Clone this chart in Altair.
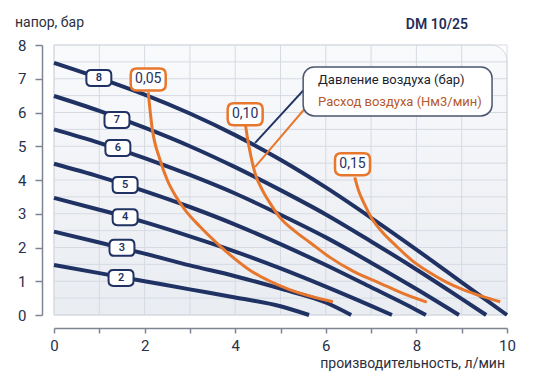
import altair as alt
import pandas as pd

W, H = 453, 270
NAVY = "#1f3263"
ORANGE = "#e8772e"
FONT = "Roboto"

# ---- pressure curves (air pressure, bar) ----
p2_x = [0, 1, 2, 3, 4, 5, 5.63]
p2_y = [1.48, 1.24, 1.0, 0.76, 0.52, 0.26, 0]
p3_x = [0, 1, 2, 3, 4, 5, 6, 6.56]
p3_y = [2.47, 2.15, 1.82, 1.47, 1.15, 0.78, 0.37, 0]
p4_x = [0, 1, 2, 3, 4, 5, 6, 7, 7.46]
p4_y = [3.47, 3.12, 2.75, 2.33, 1.88, 1.38, 0.84, 0.27, 0]
p5_x = [0, 1, 2, 3, 4, 5, 6, 7, 8, 8.21]
p5_y = [4.48, 4.1, 3.67, 3.2, 2.68, 2.1, 1.48, 0.82, 0.15, 0]
p6_x = [0, 1, 2, 3, 4, 5, 6, 7, 8, 8.94]
p6_y = [5.5, 5.1, 4.65, 4.15, 3.6, 2.97, 2.3, 1.55, 0.77, 0]
p7_x = [0, 1, 2, 3, 4, 5, 6, 7, 8, 9, 9.54]
p7_y = [6.49, 6.05, 5.55, 5.0, 4.38, 3.7, 2.98, 2.18, 1.35, 0.48, 0]
p8_x = [0, 1, 2, 3, 4, 5, 6, 7, 8, 9, 10]
p8_y = [7.47, 7.02, 6.53, 5.97, 5.33, 4.6, 3.78, 2.88, 1.94, 0.97, 0]

# ---- air consumption curves (Nm3/min) ----
o05_x = [2.08, 2.16, 2.34, 2.5, 2.72, 2.9, 3.2, 3.66, 4.3, 5.2, 6.16]
o05_y = [6.6, 5.6, 4.6, 4.0, 3.45, 3.1, 2.65, 2.05, 1.35, 0.75, 0.39]
o10_x = [4.22, 4.27, 4.34, 4.45, 4.6, 4.8, 5.0, 5.3, 5.65, 6.1, 6.6, 7.2, 7.7, 8.23]
o10_y = [5.7, 5.25, 4.75, 4.15, 3.7, 3.25, 2.87, 2.5, 2.15, 1.7, 1.3, 0.94, 0.64, 0.38]
o15_x = [6.64, 6.72, 6.84, 7.02, 7.25, 7.55, 7.9, 8.3, 8.65, 9.03, 9.45, 9.85]
o15_y = [4.08, 3.7, 3.32, 2.85, 2.45, 2.05, 1.62, 1.25, 0.98, 0.75, 0.55, 0.39]

# ---- curve labels ----
p_labels = ["2", "3", "4", "5", "6", "7", "8"]
p_label_x = [1.48, 1.50, 1.57, 1.57, 1.41, 1.39, 0.99]
p_label_y = [1.10, 1.99, 2.90, 3.85, 4.95, 5.78, 7.02]
o_labels = ["0,05", "0,10", "0,15"]
o_label_x = [2.08, 4.22, 6.59]
o_label_y = [6.98, 5.95, 4.47]

# ---- legend / annotation ----
legend_texts = ["Давление воздуха (бар)", "Расход воздуха (Нм3/мин)"]
legend_colors = ["#1c1f2e", "#b5592a"]
legend_text_x = [5.83, 5.83]
legend_text_y = [6.96, 6.31]
legend_box_x = [5.5]
legend_box_x2 = [9.67]
legend_box_y = [7.35]
legend_box_y2 = [5.9]
leader_x = [5.61, 4.44, 5.7, 4.44]
leader_y = [6.81, 5.1, 6.37, 4.39]
leader_id = ["p", "p", "o", "o"]

grid_x = list(range(0, 11))
grid_y = [i * 0.5 for i in range(0, 17)]

titles = ["напор, бар", "DM 10/25", "производительность, л/мин"]

# ---- build tables ----
def long_table(series):
    rows = []
    for name, xs_, ys_ in series:
        for i, (x, y) in enumerate(zip(xs_, ys_)):
            rows.append({"curve": name, "i": i, "x": x, "y": y})
    return pd.DataFrame(rows)

press_df = long_table([("2", p2_x, p2_y), ("3", p3_x, p3_y), ("4", p4_x, p4_y),
                       ("5", p5_x, p5_y), ("6", p6_x, p6_y), ("7", p7_x, p7_y),
                       ("8", p8_x, p8_y)])
air_df = long_table([("0,05", o05_x, o05_y), ("0,10", o10_x, o10_y), ("0,15", o15_x, o15_y)])
plab_df = pd.DataFrame({"t": p_labels, "x": p_label_x, "y": p_label_y})
olab_df = pd.DataFrame({"t": o_labels, "x": o_label_x, "y": o_label_y})
legtxt_df = pd.DataFrame({"t": legend_texts, "c": legend_colors, "x": legend_text_x, "y": legend_text_y})
legbox_df = pd.DataFrame({"x": legend_box_x, "x2": legend_box_x2, "y": legend_box_y, "y2": legend_box_y2})
leader_df = pd.DataFrame({"x": leader_x, "y": leader_y, "id": leader_id})
gx_df = pd.DataFrame({"x": grid_x})
gy_df = pd.DataFrame({"y": grid_y})

xs = alt.Scale(domain=[0, 10], nice=False)
ys = alt.Scale(domain=[0, 8], nice=False)

x_axis = alt.Axis(values=list(range(11)), labelExpr="datum.value % 2 == 0 ? datum.label : ''",
                  grid=False, offset=13, domainColor="#7d8593", domainWidth=1.5,
                  tickColor="#7d8593", tickWidth=1.5, tickSize=5, labelFontSize=15,
                  labelColor="#27304a", labelPadding=5, labelFlush=False, title=None,
                  labelFont=FONT)
y_axis = alt.Axis(values=list(range(9)), grid=False, offset=12, domainColor="#7d8593",
                  domainWidth=1.5, tickColor="#7d8593", tickWidth=1.5, tickSize=7,
                  labelFontSize=15, labelColor="#27304a", labelPadding=9, labelFlush=False,
                  title=None, labelFont=FONT)

def X(field="x"):
    return alt.X(f"{field}:Q", scale=xs, axis=x_axis)

def Y(field="y"):
    return alt.Y(f"{field}:Q", scale=ys, axis=y_axis)

bg = alt.Chart(pd.DataFrame({"a": [0]})).mark_rect(
    cornerRadiusTopRight=16, stroke="#d3d7df", strokeWidth=1,
    fill=alt.Gradient(gradient="linear", x1=0, y1=0, x2=0, y2=1,
                      stops=[alt.GradientStop(offset=0, color="#f9fafc"),
                             alt.GradientStop(offset=1, color="#e9ecf1")])
).encode(x=alt.value(0), x2=alt.value(W), y=alt.value(0), y2=alt.value(H))

gridv = alt.Chart(gx_df).mark_rule(color="#d6dae2", strokeWidth=1).encode(x=X())
gridh = alt.Chart(gy_df).mark_rule(color="#d6dae2", strokeWidth=1).encode(y=Y())

press = alt.Chart(press_df).mark_line(color=NAVY, strokeWidth=4, interpolate="monotone").encode(
    x=X(), y=Y(), detail="curve:N", order="i:Q")

air = alt.Chart(air_df).mark_line(color=ORANGE, strokeWidth=3, interpolate="monotone").encode(
    x=X(), y=Y(), detail="curve:N", order="i:Q")

def rounded_box(w, h, r):
    return (f"M{-w + r},{-h} L{w - r},{-h} Q{w},{-h} {w},{-h + r} L{w},{h - r} Q{w},{h} {w - r},{h} "
            f"L{-w + r},{h} Q{-w},{h} {-w},{h - r} L{-w},{-h + r} Q{-w},{-h} {-w + r},{-h} Z")

# navy label boxes: ~25x16 px (unit = 8 px)
pbox = alt.Chart(plab_df).mark_point(
    shape=rounded_box(1.56, 1.0, 0.6), size=256, filled=True, fill="white",
    stroke=NAVY, strokeWidth=2, opacity=1
).encode(x=X(), y=Y())
ptxt = alt.Chart(plab_df).mark_text(font=FONT, fontSize=11, color=NAVY, fontWeight=600).encode(
    x=X(), y=Y(), text="t:N")

# orange label boxes: ~35x22 px (unit = 11 px)
obox = alt.Chart(olab_df).mark_point(
    shape=rounded_box(1.59, 1.0, 0.55), size=484, filled=True, fill="white",
    stroke=ORANGE, strokeWidth=2.5, opacity=1
).encode(x=X(), y=Y())
otxt = alt.Chart(olab_df).mark_text(font=FONT, fontSize=14, color=NAVY).encode(
    x=X(), y=Y(), text="t:N")

leaders = alt.Chart(leader_df).mark_line(strokeWidth=2).encode(
    x=X(), y=Y(), detail="id:N",
    color=alt.Color("id:N", scale=alt.Scale(domain=["p", "o"], range=[NAVY, ORANGE]), legend=None))

legbox = alt.Chart(legbox_df).mark_rect(
    cornerRadius=11, fill="white", stroke="#4b5670", strokeWidth=1.5
).encode(x=X(), x2="x2:Q", y=Y(), y2="y2:Q")

legtxt = alt.Chart(legtxt_df).mark_text(font=FONT, fontSize=13, align="left").encode(
    x=X(), y=Y(), text="t:N", color=alt.Color("c:N", scale=None))

t_y = alt.Chart(pd.DataFrame({"t": [titles[0]]})).mark_text(
    font=FONT, fontSize=14, color="#2a2f3d", align="left", baseline="alphabetic"
).encode(x=alt.value(-39), y=alt.value(-18), text="t:N")
t_main = alt.Chart(pd.DataFrame({"t": [titles[1]]})).mark_text(
    font=FONT, fontSize=14, color="#1f2d5a", fontWeight=600, align="right", baseline="alphabetic"
).encode(x=alt.value(414), y=alt.value(-16), text="t:N")
t_x = alt.Chart(pd.DataFrame({"t": [titles[2]]})).mark_text(
    font=FONT, fontSize=14, color="#2a2f3d", align="right", baseline="alphabetic"
).encode(x=alt.value(451), y=alt.value(323), text="t:N")

chart = alt.layer(
    bg, gridv, gridh, press, air, pbox, ptxt, obox, otxt, leaders, legbox, legtxt,
    t_y, t_main, t_x
).properties(
    width=W, height=H,
    padding={"left": 54, "top": 45, "right": 43, "bottom": 73},
    autosize=alt.AutoSizeParams(type="none"),
    background="white"
).configure_view(stroke=None)

chart.save("out.html", embed_options={"renderer": "svg", "actions": False})
